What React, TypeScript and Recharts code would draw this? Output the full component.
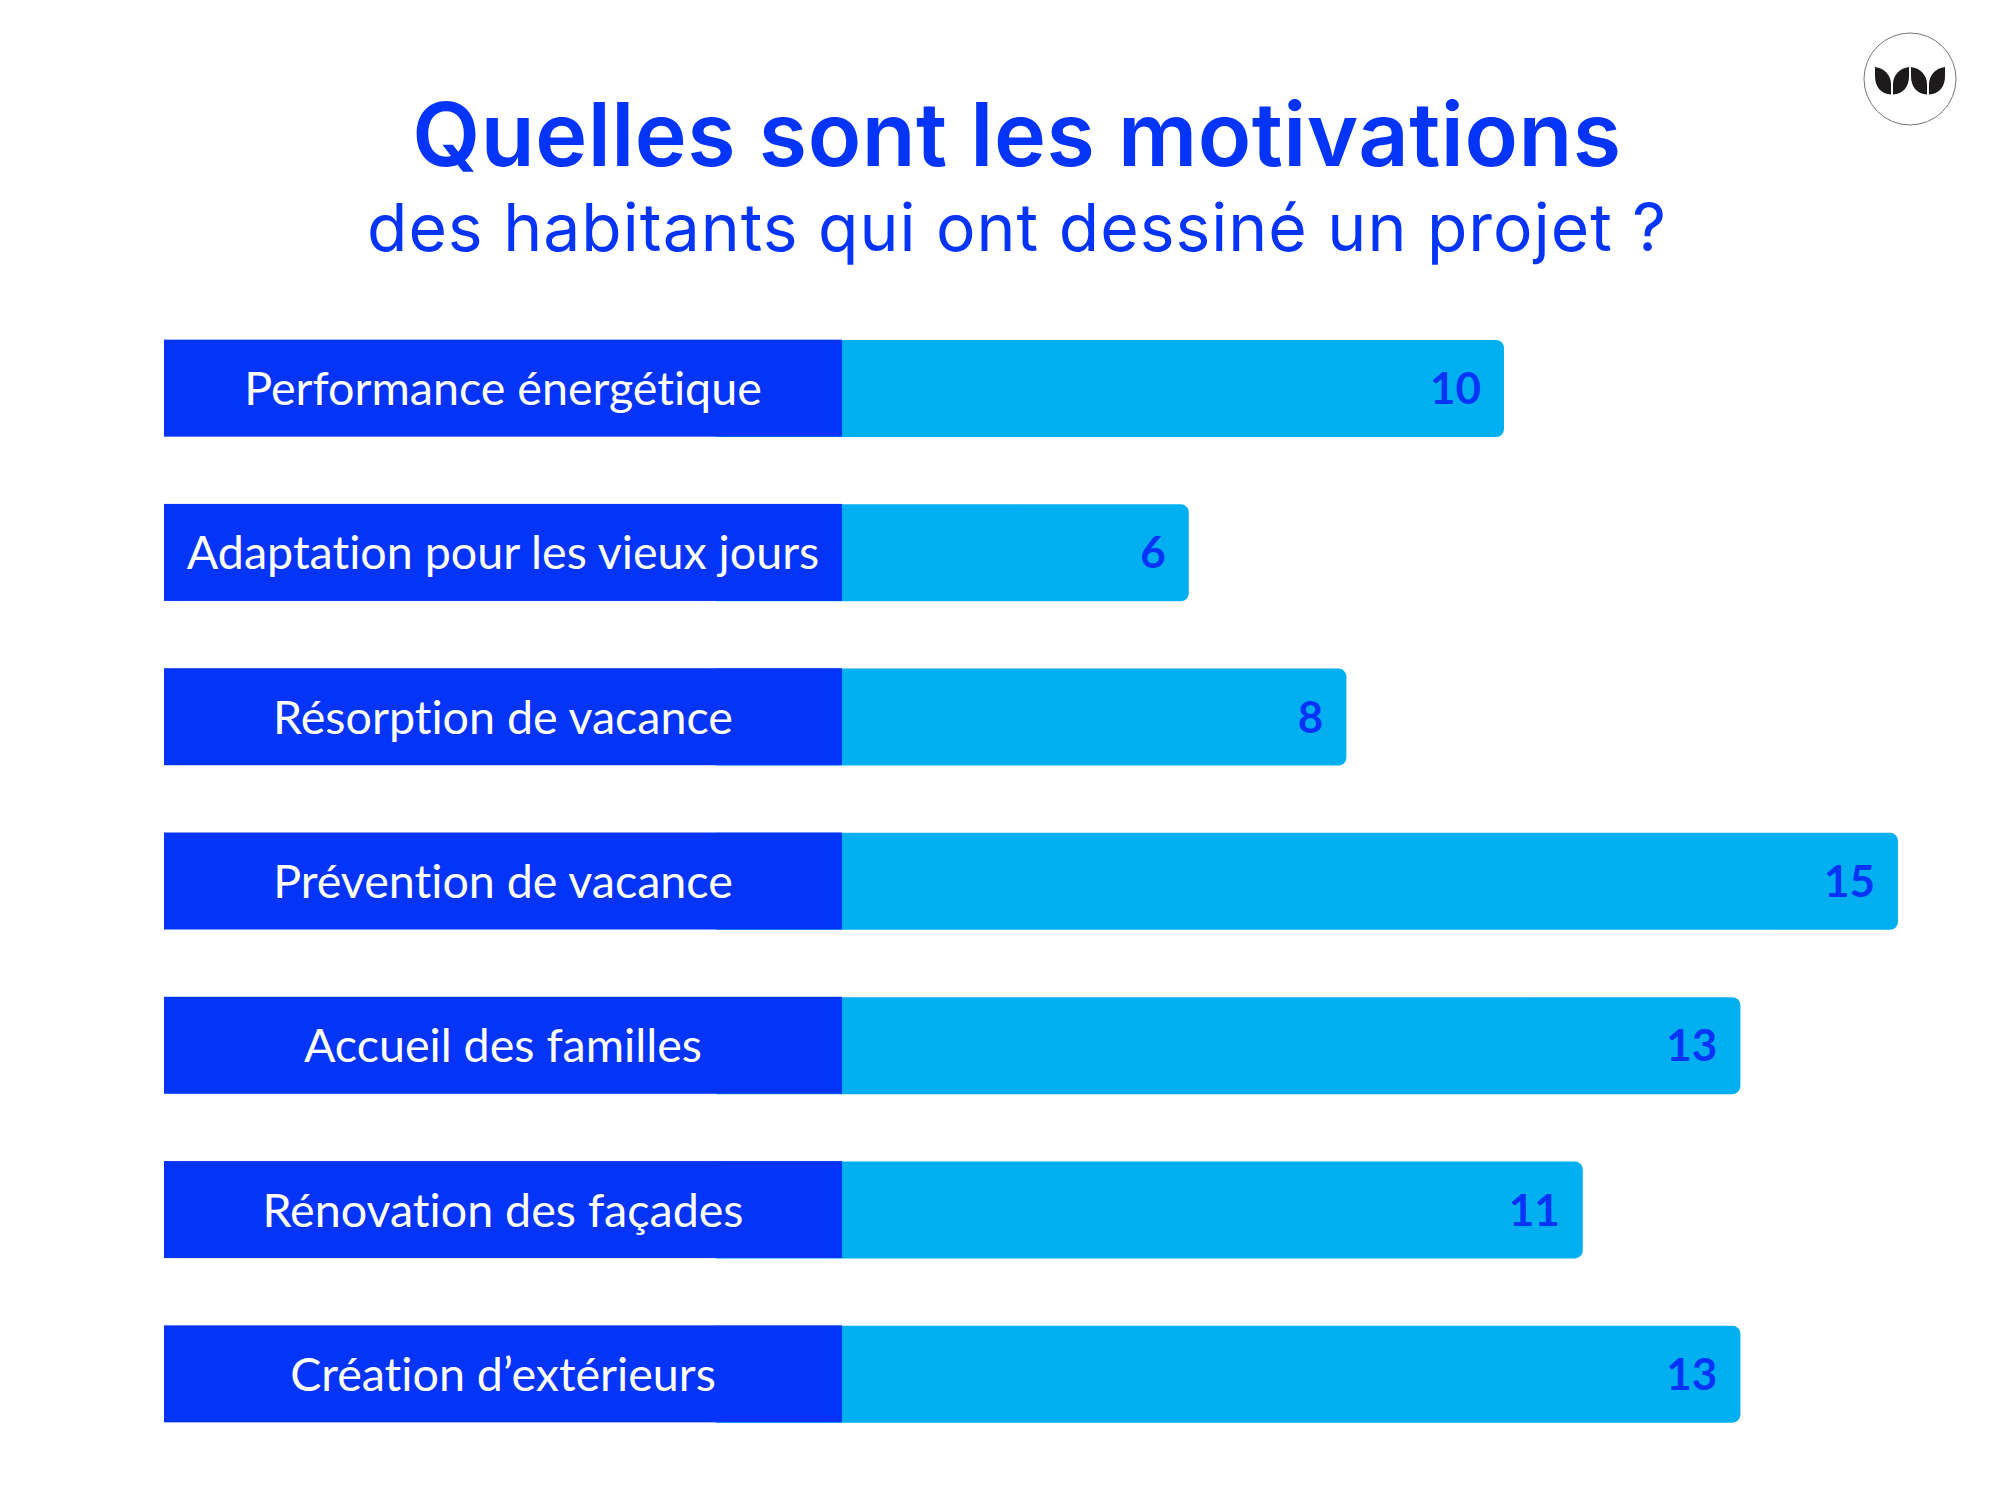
import React from 'react';
import { BarChart, Bar, XAxis, YAxis, LabelList } from 'recharts';

const categories = [
  'Performance énergétique',
  'Adaptation pour les vieux jours',
  'Résorption de vacance',
  'Prévention de vacance',
  'Accueil des familles',
  'Rénovation des façades',
  'Création d’extérieurs',
];
const counts = [10, 6, 8, 15, 13, 11, 13];

const chartData = categories.map((name, i) => ({ name, count: counts[i] }));

const DARK = '#0534f9';
const LIGHT = '#02b0f1';
const LABEL_FONT = 'Lato, sans-serif';

const BandTick = (props: any) => {
  const { y, payload } = props;
  return (
    <g>
      <rect x={164} y={y - 48.5} width={678} height={97} fill={DARK} />
      <text
        x={503}
        y={y + 17}
        textAnchor="middle"
        fill="#fff"
        fontSize={46.6}
        fontFamily={LABEL_FONT}
        style={{ fontVariantLigatures: 'none' }}
      >
        {payload.value}
      </text>
    </g>
  );
};

const Logo = () => {
  const petal = 'M0 0 C9 1 16 8 16 17 L16 27.5 C6 27 0 20 0 9 Z';
  return (
    <svg width={100} height={100} style={{ position: 'absolute', left: 1860, top: 29 }}>
      <circle cx={50} cy={50} r={46} fill="#fff" stroke="#777" strokeWidth={1} />
      <g fill="#1d1a1c" transform="translate(15 38)">
        <path d={petal} />
        <path d={petal} transform="translate(34 0) scale(-1 1)" />
        <path d={petal} transform="translate(36 0)" />
        <path d={petal} transform="translate(70 0) scale(-1 1)" />
      </g>
    </svg>
  );
};

export default function App() {
  return (
    <div style={{ position: 'absolute', left: 0, top: 0, width: 2000, height: 1500, background: '#fff' }}>
      <div
        style={{
          position: 'absolute', left: 0, top: 82, width: 2034, textAlign: 'center', letterSpacing: 0.5,
          color: DARK, fontFamily: 'Inter, sans-serif', fontWeight: 600, fontSize: 88, lineHeight: '104px',
        }}
      >
        Quelles sont les motivations
      </div>
      <div
        style={{
          position: 'absolute', left: 0, top: 188, width: 2034, textAlign: 'center', letterSpacing: 1,
          color: DARK, fontFamily: 'Inter, sans-serif', fontWeight: 400, fontSize: 66, lineHeight: '78px',
        }}
      >
        des habitants qui ont dessiné un projet ?
      </div>
      <Logo />
      <BarChart
        width={2000}
        height={1500}
        layout="vertical"
        data={chartData}
        margin={{ top: 306, right: 102, bottom: 44, left: 164 }}
        style={{ position: 'absolute', left: 0, top: 0 }}
      >
        <XAxis type="number" domain={[0, 15]} hide />
        <Bar dataKey="count" fill={LIGHT} barSize={97} radius={[0, 8, 8, 0]} isAnimationActive={false}>
          <LabelList
            dataKey="count"
            position="insideRight"
            offset={23}
            fill={DARK}
            fontSize={44}
            fontWeight={700}
            fontFamily={LABEL_FONT}
          />
        </Bar>
        <YAxis
          type="category"
          dataKey="name"
          width={552}
          interval={0}
          axisLine={false}
          tickLine={false}
          tick={BandTick}
        />
      </BarChart>
    </div>
  );
}
